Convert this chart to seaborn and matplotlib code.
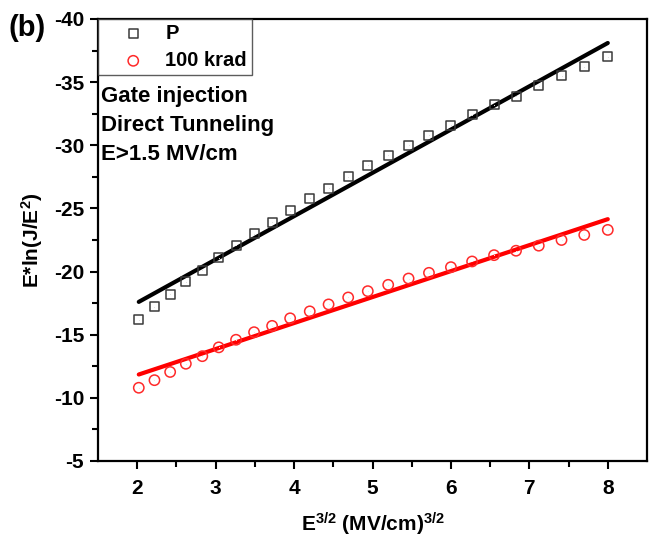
import numpy as np
import pandas as pd
import matplotlib
matplotlib.use("Agg")
import matplotlib.pyplot as plt
import seaborn as sns

# ---- data ----
x_vals = [2.02, 2.22, 2.42, 2.62, 2.83, 3.04, 3.26, 3.49, 3.72, 3.95,
          4.20, 4.44, 4.69, 4.94, 5.20, 5.46, 5.72, 6.00, 6.27, 6.55,
          6.83, 7.12, 7.41, 7.70, 8.00]
p_vals = [-16.2, -17.2, -18.2, -19.2, -20.1, -21.1, -22.1, -23.0, -23.9, -24.8,
          -25.8, -26.6, -27.5, -28.4, -29.2, -30.0, -30.8, -31.6, -32.4, -33.2,
          -33.9, -34.7, -35.5, -36.2, -37.0]
krad_vals = [-10.8, -11.4, -12.05, -12.7, -13.3, -14.0, -14.6, -15.2, -15.7, -16.3,
             -16.85, -17.4, -17.95, -18.45, -18.95, -19.45, -19.9, -20.35, -20.8, -21.3,
             -21.65, -22.05, -22.5, -22.9, -23.3]
fit_x = [2.02, 8.0]
fit_p = [-17.6, -38.1]
fit_krad = [-11.85, -24.15]

series_names = ["P", "100 krad"]
annot_lines = ["Gate injection", "Direct Tunneling", "E>1.5 MV/cm"]

df = pd.DataFrame({
    "x": x_vals * 2,
    "y": p_vals + krad_vals,
    "series": [series_names[0]] * len(x_vals) + [series_names[1]] * len(x_vals),
})
fit_df = pd.DataFrame({
    "x": fit_x * 2,
    "y": fit_p + fit_krad,
    "series": [series_names[0]] * 2 + [series_names[1]] * 2,
})

sns.set_style("ticks")
plt.rcParams['font.family'] = ['Liberation Sans', 'DejaVu Sans']
plt.rcParams['font.weight'] = 'bold'
plt.rcParams['text.color'] = 'black'
plt.rcParams['axes.labelcolor'] = 'black'
plt.rcParams['xtick.color'] = 'black'
plt.rcParams['ytick.color'] = 'black'
plt.rcParams['mathtext.fontset'] = 'custom'
plt.rcParams['mathtext.rm'] = 'Liberation Sans:bold'
plt.rcParams['mathtext.it'] = 'Liberation Sans:bold'
plt.rcParams['mathtext.bf'] = 'Liberation Sans:bold'

fig = plt.figure(figsize=(6.51, 5.41), dpi=100)
ax = fig.add_axes([98/651, 1 - 461/541, 549/651, 442/541])

# fit lines
sns.lineplot(data=fit_df, x="x", y="y", hue="series",
             palette={"P": "black", "100 krad": "#ff0000"},
             linewidth=3, legend=False, ax=ax, zorder=3)

# markers
sns.scatterplot(data=df[df.series == "P"], x="x", y="y", marker="s", s=42,
                facecolor="none", edgecolor="#3a3a3a", linewidth=1.1,
                label="P", ax=ax, zorder=4)
sns.scatterplot(data=df[df.series == "100 krad"], x="x", y="y", marker="o", s=55,
                facecolor="none", edgecolor="#ff2a2a", linewidth=1.1,
                label="100 krad", ax=ax, zorder=4)
# tiny centre dots (Origin-style)
sns.scatterplot(data=df[df.series == "P"], x="x", y="y", marker=".", s=2,
                color="#666666", linewidth=0, legend=False, ax=ax, zorder=5)
sns.scatterplot(data=df[df.series == "100 krad"], x="x", y="y", marker=".", s=2,
                color="#ff6666", linewidth=0, legend=False, ax=ax, zorder=5)

ax.set_xlim(1.5, 8.5)
ax.set_ylim(-5, -40)
ax.set_xticks(np.arange(2, 9, 1))
ax.set_xticks(np.arange(2.5, 8.5, 1), minor=True)
ax.set_yticks(np.arange(-40, -4, 5))
ax.set_yticks(np.arange(-37.5, -5, 5), minor=True)
ax.set_yticklabels([str(v) for v in range(-40, -4, 5)])

ax.tick_params(axis='both', which='major', direction='out', length=6, width=1.5,
               labelsize=15)
ax.tick_params(axis='x', which='major', pad=7)
ax.tick_params(axis='y', which='major', pad=4)
ax.tick_params(axis='both', which='minor', direction='out', length=4, width=1.5)
ax.tick_params(top=False, right=False)
for lab in ax.get_xticklabels() + ax.get_yticklabels():
    lab.set_fontweight('bold')
for sp in ax.spines.values():
    sp.set_linewidth(1.6)
    sp.set_color("black")

ax.set_xlabel(r"E$^{3/2}$ (MV/cm)$^{3/2}$", fontsize=15, fontweight='bold', labelpad=9)
ax.set_ylabel(r"E*ln(J/E$^{2}$)", fontsize=15, fontweight='bold', labelpad=6)

leg = ax.legend(loc="upper left", borderaxespad=0, fontsize=14.5, frameon=True,
                fancybox=False, edgecolor="#333333", handletextpad=0.1,
                borderpad=0.25, labelspacing=0.4, handlelength=3.0)
leg.get_frame().set_linewidth(1.0)
for t in leg.get_texts():
    t.set_fontweight('bold')

for i, line in enumerate(annot_lines):
    ax.text(0.006, 0.824 - i * 0.065, line, transform=ax.transAxes,
            fontsize=16, fontweight='bold', va='center', ha='left')

fig.text(27/651, 1 - 28/541, "(b)", fontsize=21, fontweight='bold',
         ha='center', va='center')

fig.savefig("out.png", dpi=100)
